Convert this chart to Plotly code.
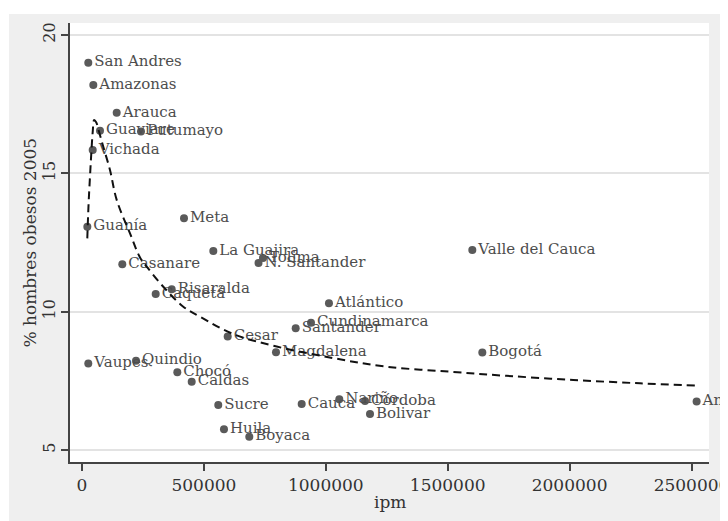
import plotly.graph_objects as go

# ---- data ----
departamentos = [
    "San Andres", "Amazonas", "Arauca", "Guaviare", "Putumayo", "Vichada",
    "Guanía", "Meta", "La Guajira", "Tolima", "N. Santander", "Casanare",
    "Risaralda", "Caquetá", "Atlántico", "Cundinamarca", "Santander",
    "Magdalena", "Cesar", "Vaupes", "Quindio", "Chocó", "Caldas", "Sucre",
    "Huila", "Boyaca", "Cauca", "Nariño", "Córdoba", "Bolivar",
    "Valle del Cauca", "Bogotá", "Antioquia",
]
ipm = [
    25800, 46400, 142300, 73800, 242000, 43900,
    21900, 418400, 538600, 742400, 724000, 165300,
    367900, 302300, 1013000, 939300, 876500,
    795700, 597600, 25800, 221500, 391000, 450000, 559000,
    582400, 686200, 901100, 1055400, 1160800, 1181300,
    1601000, 1642000, 2521000,
]
obesos = [
    19.00, 18.19, 17.19, 16.54, 16.51, 15.84,
    13.07, 13.38, 12.19, 11.94, 11.76, 11.71,
    10.81, 10.64, 10.30, 9.60, 9.40,
    8.53, 9.10, 8.13, 8.23, 7.81, 7.47, 6.63,
    5.75, 5.48, 6.66, 6.83, 6.77, 6.30,
    12.23, 8.52, 6.75,
]

# fitted curve (dashed)
fit_x = [21700, 27000, 32800, 38000, 44000, 50000, 58000, 70000, 87400,
         114800, 142300, 196900, 237900, 265400, 333500, 415500, 484000,
         620600, 798600, 1030800, 1249800, 1509400, 1742000, 2015200,
         2288800, 2521300]
fit_y = [12.65, 13.9, 14.88, 15.7, 16.5, 16.93, 16.85, 16.5, 15.96,
         15.12, 14.04, 12.83, 11.96, 11.63, 10.90, 10.18, 9.82,
         9.19, 8.74, 8.32, 8.01, 7.83, 7.68, 7.53,
         7.41, 7.33]

x_ticks = [0, 500000, 1000000, 1500000, 2000000, 2500000]
y_ticks = [5, 10, 15, 20]

FONT = "DejaVu Serif"

fig = go.Figure()
fig.add_trace(go.Scatter(
    x=ipm, y=obesos, mode="markers+text", text=departamentos,
    textposition="middle right",
    marker=dict(size=8, color="#5a5a5a"),
    textfont=dict(family=FONT, size=15, color="#4d4d4d"),
    cliponaxis=False, showlegend=False, hoverinfo="skip",
))
fig.add_trace(go.Scatter(
    x=fit_x, y=fit_y, mode="lines", line_shape="spline",
    line=dict(color="#111111", width=2, dash="8px,5px"),
    showlegend=False, hoverinfo="skip",
))

# the page body adds an 8px offset; figure pixels = screen pixels - 8
OFF = 8
W, H = 728, 521
L, R, T, B = 70 - OFF, 19 + OFF, 23 - OFF, 59 + OFF
pw, ph = W - L - R, H - T - B

def px_x(p):
    return (p - OFF - L) / pw

def px_y(p):
    return (H - B - (p - OFF)) / ph

fig.update_layout(
    template="none",
    width=W, height=H,
    margin=dict(l=L, r=R, t=T, b=B, autoexpand=False),
    paper_bgcolor="#efefef", plot_bgcolor="white",
    font=dict(family=FONT, color="#333333"),
    xaxis=dict(
        range=[-49200, 2571800], tickvals=x_ticks,
        ticktext=[str(v) for v in x_ticks],
        automargin=False, ticklabeloverflow="allow",
        showgrid=False, zeroline=False, showline=True,
        linecolor="#444444", linewidth=1.5,
        ticks="outside", ticklen=7, tickcolor="#444444", tickwidth=1.5,
        tickfont=dict(family=FONT, size=17, color="#333333"),
    ),
    yaxis=dict(
        range=[4.566, 20.434], tickvals=y_ticks,
        automargin=False,
        showgrid=True, gridcolor="#e3e3e3", gridwidth=1.5,
        zeroline=False, showline=True,
        linecolor="#444444", linewidth=1.5,
        ticks="outside", ticklen=7, tickcolor="#444444", tickwidth=1.5,
        tickangle=-90,
        tickfont=dict(family=FONT, size=16, color="#333333"),
    ),
    shapes=[
        dict(type="rect", xref="paper", yref="paper", layer="below",
             x0=px_x(0), x1=px_x(9), y0=px_y(H + OFF), y1=px_y(0),
             fillcolor="white", line=dict(width=0)),
        dict(type="rect", xref="paper", yref="paper", layer="below",
             x0=px_x(0), x1=px_x(W + OFF), y0=px_y(14), y1=px_y(0),
             fillcolor="white", line=dict(width=0)),
    ],
    annotations=[
        dict(text="ipm", xref="paper", yref="paper", x=0.5, y=px_y(502),
             xanchor="center", yanchor="middle", showarrow=False,
             font=dict(family=FONT, size=17, color="#333333")),
        dict(text="% hombres obesos 2005", xref="paper", yref="paper",
             x=px_x(29), y=0.5, textangle=-90,
             xanchor="center", yanchor="middle", showarrow=False,
             font=dict(family=FONT, size=17, color="#333333")),
    ],
)

fig.write_html("out.html")
